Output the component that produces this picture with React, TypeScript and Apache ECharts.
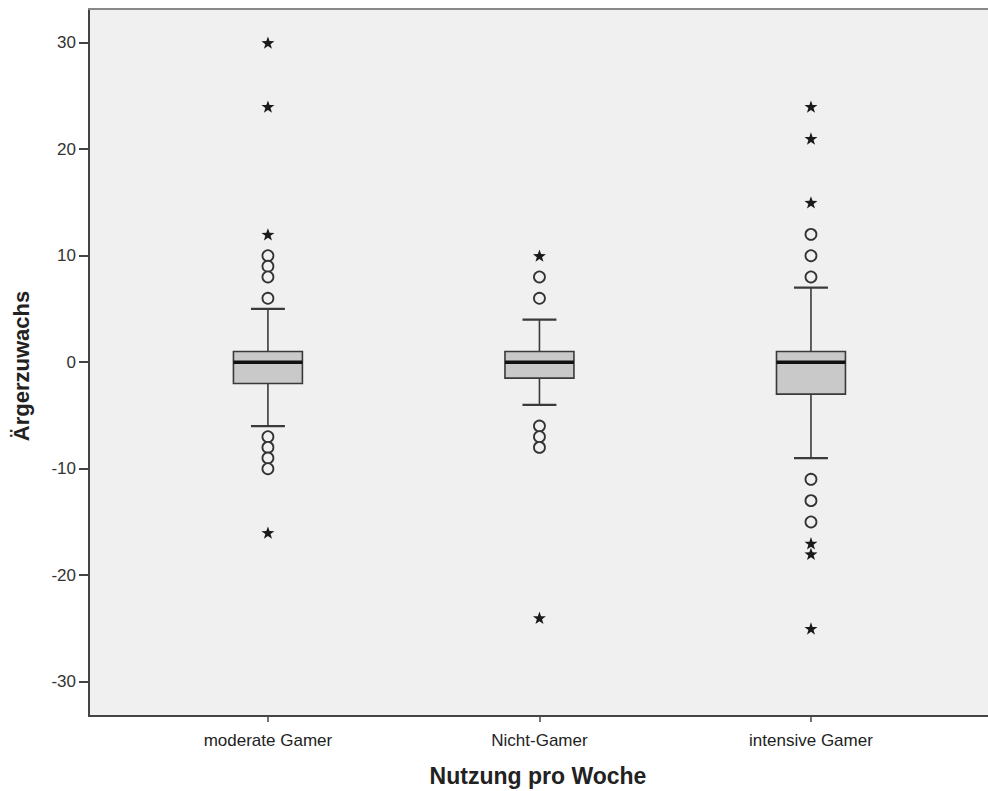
import React, { useEffect, useRef } from "react";
import * as echarts from "echarts";

const categories = ["moderate Gamer", "Nicht-Gamer", "intensive Gamer"];
const lowerWhisker = [-6, -4, -9];
const q1 = [-2, -1.5, -3];
const median = [0, 0, 0];
const q3 = [1, 1, 1];
const upperWhisker = [5, 4, 7];
const circleOutliers: number[][] = [
  [10, 9, 8, 6, -7, -8, -9, -10],
  [8, 6, -6, -7, -8],
  [12, 10, 8, -11, -13, -15],
];
const starOutliers: number[][] = [
  [30, 24, 12, -16],
  [10, -24],
  [24, 21, 15, -17, -18, -25],
];
const yTicks = [-30, -20, -10, 0, 10, 20, 30];
const xTicks = [0, 1, 2];

const STAR =
  "path://M0,-10 L2.35,-3.24 L9.51,-3.09 L3.8,1.24 L5.88,8.09 L0,4 L-5.88,8.09 L-3.8,1.24 L-9.51,-3.09 L-2.35,-3.24 Z";

export default function App() {
  const ref = useRef<HTMLDivElement>(null);
  useEffect(() => {
    if (!ref.current) return;
    const chart = echarts.init(ref.current, undefined, { renderer: "svg" });
    const boxData = categories.map((_, i) => [i, lowerWhisker[i], q1[i], median[i], q3[i], upperWhisker[i]]);
    const circles: number[][] = [];
    circleOutliers.forEach((arr, i) => arr.forEach((v) => circles.push([i, v])));
    const stars: number[][] = [];
    starOutliers.forEach((arr, i) => arr.forEach((v) => stars.push([i, v])));
    const font = "'Liberation Sans', Arial, sans-serif";
    chart.setOption({
      animation: false,
      backgroundColor: "#ffffff",
      grid: {
        left: 89,
        right: 0,
        top: 9,
        bottom: 75,
        show: true,
        backgroundColor: "#f0f0f0",
        borderWidth: 0,
      },
      xAxis: [
        {
          type: "value",
          min: -0.659,
          max: 2.652,
          position: "bottom",
          splitLine: { show: false },
          axisLine: { show: true, onZero: false, lineStyle: { color: "#444", width: 2 } },
          axisTick: { show: true, customValues: xTicks, length: 6, lineStyle: { color: "#444", width: 1.5 } },
          axisLabel: {
            customValues: xTicks,
            formatter: (v: number) => categories[Math.round(v)] ?? "",
            margin: 16,
            fontFamily: font,
            fontSize: 17,
            color: "#222",
          },
        },
        {
          type: "value",
          min: -0.659,
          max: 2.652,
          position: "top",
          splitLine: { show: false },
          axisLine: { show: true, onZero: false, lineStyle: { color: "#888", width: 2 } },
          axisTick: { show: false },
          axisLabel: { show: false },
        },
      ],
      yAxis: {
        type: "value",
        min: -33.22,
        max: 33.16,
        splitLine: { show: false },
        axisLine: { show: true, onZero: false, lineStyle: { color: "#444", width: 2 } },
        axisTick: { show: true, customValues: yTicks, length: 10, lineStyle: { color: "#444", width: 2 } },
        axisLabel: {
          customValues: yTicks,
          margin: 13,
          fontFamily: font,
          fontSize: 17,
          color: "#333",
        },
      },
      graphic: [
        {
          type: "text",
          x: 21,
          y: 366,
          rotation: Math.PI / 2,
          style: {
            text: "Ärgerzuwachs",
            font: "bold 22px 'Liberation Sans', Arial, sans-serif",
            fill: "#222",
            align: "center",
            verticalAlign: "middle",
          },
        },
        {
          type: "text",
          x: 538,
          y: 776,
          style: {
            text: "Nutzung pro Woche",
            font: "bold 23px 'Liberation Sans', Arial, sans-serif",
            fill: "#222",
            align: "center",
            verticalAlign: "middle",
          },
        },
      ],
      series: [
        {
          type: "custom",
          xAxisIndex: 0,
          yAxisIndex: 0,
          data: boxData,
          encode: { x: 0, y: [1, 2, 3, 4, 5] },
          renderItem: (params: any, api: any) => {
            const x = api.value(0);
            const pLow = api.coord([x, api.value(1)]);
            const pQ1 = api.coord([x, api.value(2)]);
            const pMed = api.coord([x, api.value(3)]);
            const pQ3 = api.coord([x, api.value(4)]);
            const pHigh = api.coord([x, api.value(5)]);
            const bw = api.size([0.254, 0])[0];
            const cw = api.size([0.125, 0])[0];
            const cx = pMed[0];
            const stroke = "#3a3a3a";
            return {
              type: "group",
              children: [
                { type: "line", shape: { x1: cx, y1: pLow[1], x2: cx, y2: pQ1[1] }, style: { stroke, lineWidth: 1.6 } },
                { type: "line", shape: { x1: cx, y1: pQ3[1], x2: cx, y2: pHigh[1] }, style: { stroke, lineWidth: 1.6 } },
                { type: "line", shape: { x1: cx - cw / 2, y1: pLow[1], x2: cx + cw / 2, y2: pLow[1] }, style: { stroke, lineWidth: 2.2 } },
                { type: "line", shape: { x1: cx - cw / 2, y1: pHigh[1], x2: cx + cw / 2, y2: pHigh[1] }, style: { stroke, lineWidth: 2.2 } },
                {
                  type: "rect",
                  shape: { x: cx - bw / 2, y: pQ3[1], width: bw, height: pQ1[1] - pQ3[1] },
                  style: { fill: "#c9c9c9", stroke, lineWidth: 1.6 },
                },
                { type: "line", shape: { x1: cx - bw / 2, y1: pMed[1], x2: cx + bw / 2, y2: pMed[1] }, style: { stroke: "#111", lineWidth: 3.4 } },
              ],
            };
          },
          z: 2,
        },
        {
          type: "scatter",
          data: circles,
          symbol: "circle",
          symbolSize: 11,
          itemStyle: { color: "#f0f0f0", borderColor: "#333", borderWidth: 1.8, opacity: 1 },
          z: 3,
        },
        {
          type: "scatter",
          data: stars,
          symbol: STAR,
          symbolSize: 13,
          symbolKeepAspect: true,
          itemStyle: { color: "#1a1a1a", opacity: 1 },
          z: 3,
        },
      ],
    });
    return () => chart.dispose();
  }, []);
  return <div ref={ref} style={{ position: "absolute", left: 0, top: 0, width: 988, height: 791 }} />;
}
